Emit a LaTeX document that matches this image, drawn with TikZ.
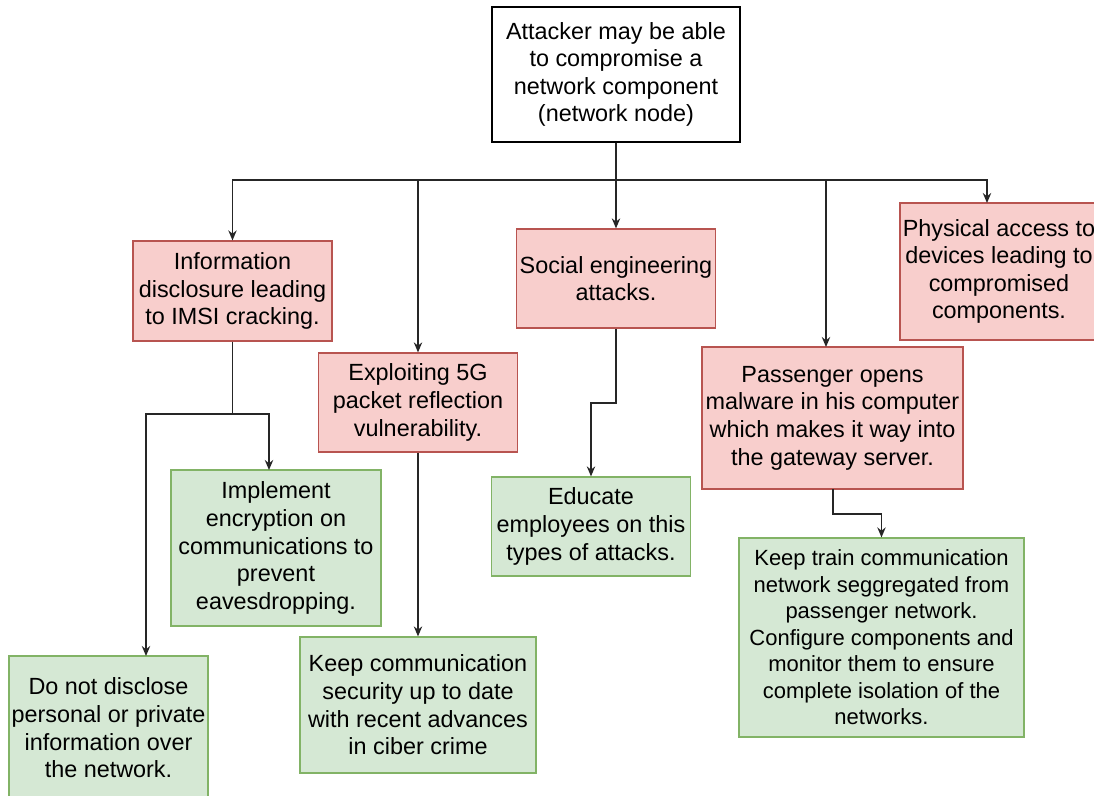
\documentclass[tikz,border=0pt]{standalone}
\usepackage{fontspec}
\setmainfont{Liberation Sans}
\usetikzlibrary{arrows.meta}
\definecolor{threatfill}{HTML}{F8CECC}
\definecolor{threatline}{HTML}{B85450}
\definecolor{fixfill}{HTML}{D5E8D4}
\definecolor{fixline}{HTML}{82B366}
\begin{document}
\begin{tikzpicture}[x=0.5pt,y=-0.5pt,
  box/.style={rectangle, line width=0.6pt, align=center, inner sep=0pt,
    font=\fontsize{11.7}{13.8}\selectfont},
  root/.style={box, draw=black, fill=white},
  threat/.style={box, draw=threatline, fill=threatfill},
  fix/.style={box, draw=fixline, fill=fixfill},
  link/.style={line width=0.7pt, draw=black!85, -{Stealth[length=5pt,width=4.2pt]}}]
\useasboundingbox (0,0) rectangle (1094,796);
\clip (0,0) rectangle (1094,796);

% root threat
\node[root, minimum width=124pt, minimum height=67.5pt] (top) at (616,74.5)
  {Attacker may be able\\to compromise a\\network component\\(network node)};

% attack paths
\node[threat, minimum width=99.5pt, minimum height=50pt] (info) at (232.5,291)
  {Information\\disclosure leading\\to IMSI cracking.};
\node[threat, minimum width=99.5pt, minimum height=49.5pt] (exploit) at (418,402.5)
  {Exploiting 5G\\packet reflection\\vulnerability.};
\node[threat, minimum width=99.5pt, minimum height=49.5pt] (social) at (616,278.5)
  {Social engineering\\attacks.};
\node[threat, minimum width=130.5pt, minimum height=71pt] (pass) at (832.5,418)
  {Passenger opens\\malware in his computer\\which makes it way into\\the gateway server.};
\node[threat, minimum width=99pt, minimum height=68.5pt] (phys) at (999,271.5)
  {Physical access to\\devices leading to\\compromised\\components.};

% countermeasures
\node[fix, minimum width=99.5pt, minimum height=72pt] (nodisc) at (108.5,728)
  {Do not disclose\\personal or private\\information over\\the network.};
\node[fix, minimum width=105pt, minimum height=78pt] (encrypt) at (276,548)
  {Implement\\encryption on\\communications to\\prevent\\eavesdropping.};
\node[fix, minimum width=118pt, minimum height=68pt] (update) at (418,705)
  {Keep communication\\security up to date\\with recent advances\\in ciber crime};
\node[fix, minimum width=99.5pt, minimum height=49.5pt] (educate) at (591,526.5)
  {Educate\\employees on this\\types of attacks.};
\node[fix, minimum width=142.5pt, minimum height=99.5pt, font=\fontsize{11}{13.25}\selectfont] (segregate) at (881.5,637.5)
  {Keep train communication\\network seggregated from\\passenger network.\\Configure components and\\monitor them to ensure\\complete isolation of the\\networks.};

% bend points
\coordinate (bus) at (616,180);
\coordinate (infosplit) at (232.5,414);
\coordinate (socialbend) at (616,403);
\coordinate (passbend) at (833,514);

% root to attack paths
\draw[link] (top.south) -- (bus) -| (info.north);
\draw[link] (top.south) -- (bus) -| (exploit.north);
\draw[link] (top.south) -- (social.north);
\draw[link] (top.south) -- (bus) -| (826,347);
\draw[link] (top.south) -- (bus) -| (987,203);

% attack paths to countermeasures
\draw[link] (info.south) -- (infosplit) -| (146,656);
\draw[link] (info.south) -- (infosplit) -| (269,470);
\draw[link] (exploit.south) -- (update.north);
\draw[link] (social.south) -- (socialbend) -| (educate.north);
\draw[link] (833,489) -- (passbend) -| (segregate.north);
\end{tikzpicture}
\end{document}
